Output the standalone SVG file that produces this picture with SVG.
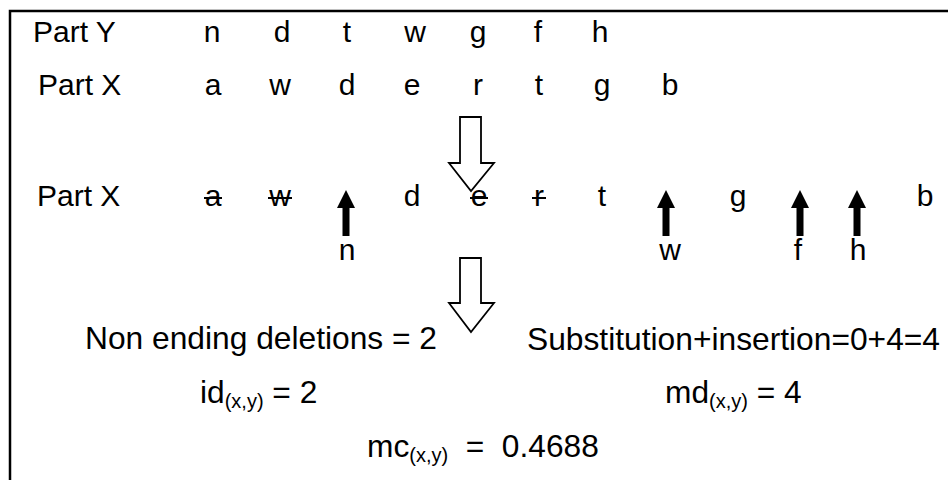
<svg xmlns="http://www.w3.org/2000/svg" width="948" height="480" viewBox="0 0 948 480">
<style>
  text { font-family: "Liberation Sans", Arial, sans-serif; fill: #000; }
  .r { font-size: 30px; }
  .c { text-anchor: middle; }
  .b { font-size: 31.7px; }
  .sub { font-size: 20px; }
  .frame { fill: none; stroke: #000; stroke-width: 2.5; }
  .hollow { fill: #fff; stroke: #000; stroke-width: 1.8; stroke-linejoin: miter; }
  .solid { fill: #000; stroke: none; }
  .strike { stroke: #000; stroke-width: 2; }
</style>
<defs>
  <path id="up" d="M0,0 L9,18 L3.5,18 L3.5,46 L-3.5,46 L-3.5,18 L-9,18 Z"/>
</defs>
<rect id="frame" class="frame" x="10" y="11" width="950" height="480"/>

<g id="rowY">
  <text class="r" x="33" y="42">Part Y</text>
  <text class="r c" x="212" y="42">n</text>
  <text class="r c" x="282" y="42">d</text>
  <text class="r c" x="347" y="42">t</text>
  <text class="r c" x="415" y="42">w</text>
  <text class="r c" x="478" y="42">g</text>
  <text class="r c" x="538" y="42">f</text>
  <text class="r c" x="600" y="42">h</text>
</g>

<g id="rowX">
  <text class="r" x="38" y="95">Part X</text>
  <text class="r c" x="213" y="95">a</text>
  <text class="r c" x="280" y="95">w</text>
  <text class="r c" x="347" y="95">d</text>
  <text class="r c" x="412" y="95">e</text>
  <text class="r c" x="478" y="95">r</text>
  <text class="r c" x="539" y="95">t</text>
  <text class="r c" x="602" y="95">g</text>
  <text class="r c" x="670" y="95">b</text>
</g>

<g id="rowX2">
  <text class="r" x="37" y="206">Part X</text>
  <text class="r c" x="213" y="206">a</text>
  <line class="strike" x1="204" y1="198" x2="222" y2="198"/>
  <text class="r c" x="280" y="206">w</text>
  <line class="strike" x1="268" y1="198" x2="292" y2="198"/>
  <text class="r c" x="412" y="206">d</text>
  <text class="r c" x="479" y="206">e</text>
  <line class="strike" x1="470" y1="198" x2="488" y2="198"/>
  <text class="r c" x="539" y="206">r</text>
  <line class="strike" x1="532" y1="198" x2="546" y2="198"/>
  <text class="r c" x="602" y="206">t</text>
  <text class="r c" x="738" y="206">g</text>
  <text class="r c" x="925" y="206">b</text>
</g>

<g id="insertions">
  <use href="#up" class="solid" x="346" y="190"/>
  <text class="r c" x="347" y="260">n</text>
  <use href="#up" class="solid" x="666" y="190"/>
  <text class="r c" x="670" y="260">w</text>
  <use href="#up" class="solid" x="800" y="190"/>
  <text class="r c" x="798" y="260">f</text>
  <use href="#up" class="solid" x="857" y="190"/>
  <text class="r c" x="858" y="260">h</text>
</g>

<g id="connectors">
  <polygon class="hollow" points="460,117 481,117 481,163 494,163 471,191 449,163 460,163"/>
  <polygon class="hollow" points="460,258 481,258 481,303 494,303 471,332 449,303 460,303"/>
</g>

<g id="results">
  <text class="b" x="85" y="349" textLength="352" lengthAdjust="spacingAndGlyphs">Non ending deletions = 2</text>
  <text class="b" x="527" y="350" textLength="413" lengthAdjust="spacingAndGlyphs">Substitution+insertion=0+4=4</text>
  <text class="b" x="200" y="403">id<tspan class="sub" dy="5">(x,y)</tspan><tspan dy="-5"> = 2</tspan></text>
  <text class="b" x="665" y="403">md<tspan class="sub" dy="5">(x,y)</tspan><tspan dy="-5"> = 4</tspan></text>
  <text class="b" x="367" y="457">mc<tspan class="sub" dy="5">(x,y)</tspan><tspan dy="-5" xml:space="preserve">  =  0.4688</tspan></text>
</g>
</svg>
